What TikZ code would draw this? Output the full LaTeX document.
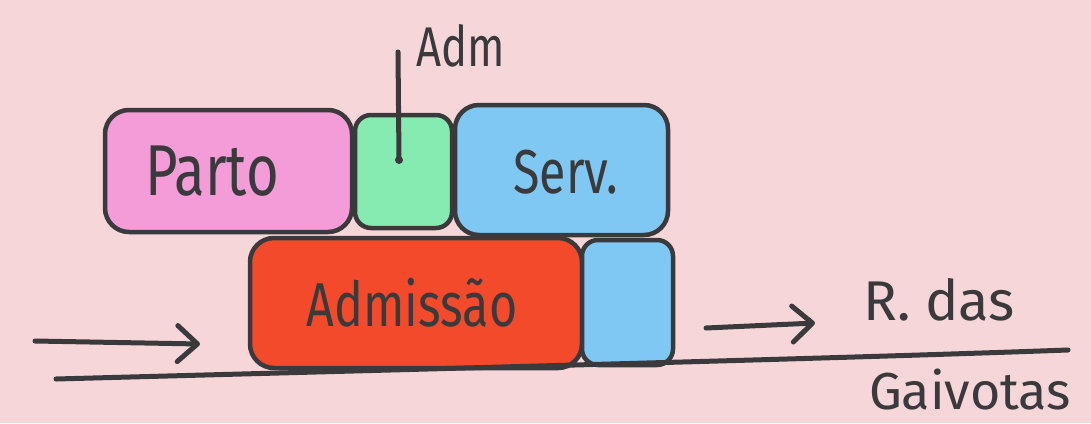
\documentclass[tikz,border=0pt]{standalone}
\usepackage{fontspec}
\usetikzlibrary{arrows.meta}
\newfontfamily\handnarrow[FakeStretch=0.78]{Fira Sans}
\newfontfamily\handwide{Fira Sans}
\definecolor{paper}{HTML}{F7D6D9}
\definecolor{ink}{HTML}{3A3A3C}
\definecolor{pinkwash}{HTML}{F39CD8}
\definecolor{greenwash}{HTML}{86EBB0}
\definecolor{bluewash}{HTML}{7FC8F4}
\definecolor{redwash}{HTML}{F44A2C}
\tikzset{
  block/.style={draw=ink, line width=4.5pt, rounded corners=24pt, inner sep=0pt},
  smallblock/.style={block, rounded corners=16pt},
  label/.style={text=ink, inner sep=0pt, anchor=center},
  stroke/.style={draw=ink, line width=5pt, line cap=round, line join=round},
  arrowline/.style={stroke, -{Straight Barb[length=20pt,width=36pt,round]}}
}
\begin{document}
\begin{tikzpicture}[x=1pt,y=-1pt]
  \fill[paper] (0,0) rectangle (1091,423);
  \useasboundingbox (0,0) rectangle (1091,423);

  % upper row of blocks
  \node[block, fill=pinkwash, minimum width=247pt, minimum height=122pt] (parto) at (228.5,171) {};
  \node[smallblock, fill=greenwash, minimum width=97pt, minimum height=113pt] (adm) at (403.5,171.5) {};
  \node[block, fill=bluewash, minimum width=213pt, minimum height=130pt] (serv) at (561.5,170) {};

  % lower row of blocks
  \node[block, fill=redwash, minimum width=332pt, minimum height=130pt] (admissao) at (416,303) {};
  \node[smallblock, fill=bluewash, minimum width=91pt, minimum height=125pt] (annex) at (627.5,302.5) {};

  % block labels
  \node[label, font=\handnarrow\fontsize{72}{72}\selectfont] (partotxt) at (212,171) {Parto};
  \node[label, font=\handnarrow\fontsize{62}{62}\selectfont] (servtxt) at (566,172) {Serv.};
  \node[label, font=\handnarrow\fontsize{62}{62}\selectfont] (admissaotxt) at (412,303) {Admissão};

  % leader from the small green block to its name
  \coordinate (admtop) at (398,52);
  \coordinate (admfoot) at (399,160);
  \draw[stroke] (admtop) -- (admfoot);
  \fill[ink] (admfoot) circle (4pt);
  \node[label, font=\handnarrow\fontsize{56}{56}\selectfont] (admtxt) at (461,46) {Adm};

  % street line and its name
  \coordinate (g0) at (56,379);
  \coordinate (g1) at (1068,350);
  \draw[stroke] (g0) .. controls (500,367) and (850,358) .. (g1);
  \node[label, font=\handwide\fontsize{56}{56}\selectfont] (rdas) at (939,300) {R. das};
  \node[label, font=\handwide\fontsize{52}{52}\selectfont] (gaivotas) at (970,390) {Gaivotas};

  % flow arrows
  \coordinate (ain) at (35,341);
  \coordinate (aintip) at (200,344);
  \draw[arrowline] (ain) -- (aintip);
  \coordinate (aout) at (706,328);
  \coordinate (aouttip) at (815,323);
  \draw[arrowline] (aout) -- (aouttip);
\end{tikzpicture}
\end{document}
